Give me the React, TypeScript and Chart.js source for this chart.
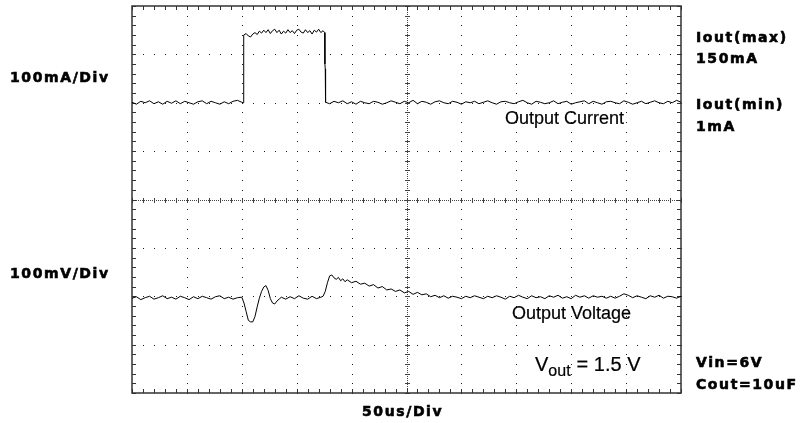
import React, { useEffect, useRef } from 'react';
import { Chart, registerables } from 'chart.js';

Chart.register(...registerables);

// Time base (us) of the major divisions: 50us/Div, 10 divisions
const timeDivUs = [0, 50, 100, 150, 200, 250, 300, 350, 400, 450, 500];
// Vertical divisions (8 divisions, centre = 0)
const verticalDivs = [-4, -3, -2, -1, 0, 1, 2, 3, 4];
const minorPerDiv = 5;

// Channel scaling
const mAPerDiv = 100;
const mVPerDiv = 100;
const currentOffsetDiv = 2;
const voltageOffsetDiv = -2;

// Output current trace (us, mA)
const currentTimeUs = [
  0, 4, 8, 12, 16, 20, 24, 28, 32, 36, 40, 44, 48, 52, 56, 60, 64, 68, 72, 76, 80, 84, 88, 92, 96, 100,
  101.4, 101.5, 101.7, 102,
  104, 106, 108, 110, 112, 114, 116, 118, 120, 122, 124, 126, 128, 130, 132, 134, 136, 138, 140, 142,
  144, 146, 148, 150, 152, 154, 156, 158, 160, 162, 164, 166, 168, 170, 172, 174, 175.5,
  175.7, 176, 176.3,
  180, 184, 188, 192, 196, 200, 204, 208, 212, 216, 220, 224, 228, 232, 236, 240, 244, 248, 252, 256,
  260, 264, 268, 272, 276, 280, 284, 288, 292, 296, 300, 304, 308, 312, 316, 320, 324, 328, 332, 336,
  340, 344, 348, 352, 356, 360, 364, 368, 372, 376, 380, 384, 388, 392, 396, 400, 404, 408, 412, 416,
  420, 424, 428, 432, 436, 440, 444, 448, 452, 456, 460, 464, 468, 472, 476, 480, 484, 488, 492, 496, 500,
];
const currentMa = [
  1, -3, 3, 0, 4, -2, 2, -3, 3, -1, 4, -2, 3, 0, -3, 2, 4, -2, 3, 0, -3, 2, -2, 3, 5, 1,
  0, 55, 70, 140,
  143, 138, 136, 142, 145, 141, 148, 144, 150, 145, 151, 143, 149, 152, 145, 150, 142, 148, 144, 151,
  145, 149, 143, 150, 152, 146, 144, 151, 145, 149, 142, 150, 146, 152, 145, 149, 145,
  80, 70, 1,
  -2, 3, 0, 4, -2, 2, -3, 3, 0, -2, 3, 1, -3, 0, 4, 1, -2, 3, 0, 5,
  -2, 3, 1, -3, 2, 4, 0, -2, 3, 1, -3, 2, 0, 3, -2, 1, 4, 0, -3, 2,
  3, 0, -2, 2, 5, 0, -3, 3, 1, -2, 0, 4, -2, 1, 3, -3, 0, 2, 4, -2,
  3, 0, -3, 2, 3, 0, -2, 4, 1, -3, 0, 3, -2, 1, 4, 0, -2, 3, 0, 5, 1,
];

// Output voltage trace (us, mV deviation)
const voltageTimeUs = [
  0, 4, 8, 12, 16, 20, 24, 28, 32, 36, 40, 44, 48, 52, 56, 60, 64, 68, 72, 76, 80, 84, 88, 92, 96, 100,
  102, 104, 106, 108, 110, 112, 114, 116, 118, 120, 122, 124, 126, 128, 130, 132, 134, 136, 140, 144,
  148, 152, 156, 160, 164, 168, 172, 174, 176, 178, 180, 182, 184, 186, 188, 190, 192, 194, 196, 200,
  204, 208, 212, 216, 220, 224, 228, 232, 236, 240, 244, 248, 252, 256, 260, 264, 268, 272, 276, 280,
  284, 288, 292, 296, 300, 304, 308, 312, 316, 320, 324, 328, 332, 336, 340, 344, 348, 352, 356, 360,
  364, 368, 372, 376, 380, 384, 388, 392, 396, 400, 404, 408, 412, 416, 420, 424, 428, 432, 436, 440,
  444, 448, 452, 456, 460, 464, 468, 472, 476, 480, 484, 488, 492, 496, 500,
];
const voltageMv = [
  -4, -1, -7, -3, 0, -6, -3, 1, -5, -2, -6, 0, -3, -7, -1, -5, 0, -3, -6, -1, 1, -5, -2, -6, -3, -2,
  -14, -32, -50, -53, -53, -42, -22, -4, 10, 19, 22, 12, -5, -14, -16, -10, -6, -2, -6, -1,
  -5, 1, -4, -6, 0, -5, -2, 0, 10, 28, 42, 44, 38, 35, 39, 32, 36, 30, 34, 28,
  31, 25, 27, 21, 24, 17, 20, 13, 15, 10, 13, 7, 10, 4, 8, 3, 5, -1, 2, -3,
  1, -4, 0, -2, -5, 0, -3, 1, -2, -5, 0, -3, 1, -2, -6, 0, -3, 2, -2, -5,
  1, -3, -1, -5, 1, -2, 2, -4, -1, -5, 2, -2, 1, -4, 1, -2, 0, -4, 0, -4,
  0, 5, 2, -3, 1, -2, -5, 1, -2, 2, -4, 0, -1, -4, 0,
];

const gridPlugin = {
  id: 'scopeGrid',
  beforeDatasetsDraw(chart: any) {
    const { ctx, chartArea: a, scales } = chart;
    const xs = scales.x;
    const ys = scales.y;
    const xMin = timeDivUs[0];
    const xMax = timeDivUs[timeDivUs.length - 1];
    const xCenter = timeDivUs[(timeDivUs.length - 1) / 2];
    const yMin = verticalDivs[0];
    const yMax = verticalDivs[verticalDivs.length - 1];
    const xStep = timeDivUs[1] - timeDivUs[0];
    const yStep = verticalDivs[1] - verticalDivs[0];
    const xMinor: number[] = [];
    for (let i = 0; i < timeDivUs.length - 1; i++)
      for (let k = 0; k < minorPerDiv; k++) xMinor.push(timeDivUs[i] + (k * xStep) / minorPerDiv);
    xMinor.push(xMax);
    const yMinor: number[] = [];
    for (let i = 0; i < verticalDivs.length - 1; i++)
      for (let k = 0; k < minorPerDiv; k++) yMinor.push(verticalDivs[i] + (k * yStep) / minorPerDiv);
    yMinor.push(yMax);

    const px = (v: number) => Math.round(xs.getPixelForValue(v));
    const py = (v: number) => Math.round(ys.getPixelForValue(v));

    ctx.save();
    // dotted major grid
    ctx.fillStyle = '#1a1a1a';
    for (const xv of timeDivUs) {
      if (xv === xMin || xv === xMax || xv === xCenter) continue;
      for (const yv of yMinor) ctx.fillRect(px(xv), py(yv), 1, 1);
    }
    for (const yv of verticalDivs) {
      if (yv === yMin || yv === yMax || yv === 0) continue;
      for (const xv of xMinor) ctx.fillRect(px(xv), py(yv), 1, 1);
    }
    // centre cross lines
    ctx.fillStyle = '#444';
    const cx = px(xCenter);
    const cy = py(0);
    for (let y = Math.round(a.top); y <= a.bottom; y += 2) ctx.fillRect(cx, y, 1, 1);
    for (let x = Math.round(a.left); x <= a.right; x += 2) ctx.fillRect(x, cy, 1, 1);
    for (const yv of yMinor) ctx.fillRect(cx - 2, py(yv), 5, 1);
    for (const xv of xMinor) ctx.fillRect(px(xv), cy - 2, 1, 5);
    // border ticks
    ctx.fillStyle = '#333';
    for (const xv of xMinor) {
      ctx.fillRect(px(xv), Math.round(a.top), 1, 4);
      ctx.fillRect(px(xv), Math.round(a.bottom) - 4, 1, 4);
    }
    for (const yv of yMinor) {
      ctx.fillRect(Math.round(a.left), py(yv), 4, 1);
      ctx.fillRect(Math.round(a.right) - 4, py(yv), 4, 1);
    }
    // frame
    ctx.strokeStyle = '#333';
    ctx.lineWidth = 1.5;
    ctx.strokeRect(a.left, a.top, a.right - a.left, a.bottom - a.top);
    ctx.restore();
  },
};

const boldLabel: React.CSSProperties = {
  position: 'absolute',
  fontFamily: '"DejaVu Sans", sans-serif',
  fontWeight: 'bold',
  fontSize: 14,
  letterSpacing: '1.6px',
  lineHeight: '16px',
  whiteSpace: 'nowrap',
  color: '#000',
  WebkitTextStroke: '0.6px #000',
};

const plainLabel: React.CSSProperties = {
  position: 'absolute',
  fontFamily: '"Liberation Sans", Arial, sans-serif',
  fontSize: 18,
  lineHeight: '20px',
  whiteSpace: 'nowrap',
  color: '#000',
  WebkitTextStroke: '0.2px #000',
};

export default function App() {
  const canvasRef = useRef<HTMLCanvasElement | null>(null);

  useEffect(() => {
    const canvas = canvasRef.current;
    if (!canvas) return;
    const chart = new Chart(canvas, {
      type: 'line',
      data: {
        datasets: [
          {
            label: 'Output Current',
            data: currentTimeUs.map((t, i) => ({ x: t, y: currentOffsetDiv + currentMa[i] / mAPerDiv })),
            borderColor: '#000',
            borderWidth: 1,
            pointRadius: 0,
            tension: 0,
          },
          {
            label: 'Output Voltage',
            data: voltageTimeUs.map((t, i) => ({ x: t, y: voltageOffsetDiv + voltageMv[i] / mVPerDiv })),
            borderColor: '#000',
            borderWidth: 1,
            pointRadius: 0,
            tension: 0,
          },
        ],
      },
      options: {
        responsive: false,
        animation: false,
        devicePixelRatio: 1,
        layout: { padding: { left: 132, top: 6, right: 120, bottom: 30 } },
        scales: {
          x: { type: 'linear', min: timeDivUs[0], max: timeDivUs[timeDivUs.length - 1], display: false },
          y: { type: 'linear', min: verticalDivs[0], max: verticalDivs[verticalDivs.length - 1], display: false },
        },
        plugins: { legend: { display: false }, tooltip: { enabled: false } },
        elements: { point: { radius: 0 } },
      },
      plugins: [gridPlugin],
    });
    return () => chart.destroy();
  }, []);

  return (
    <div style={{ position: 'fixed', left: 0, top: 0, width: 801, height: 423, background: '#fff' }}>
      <canvas ref={canvasRef} width={801} height={423} style={{ display: 'block' }} />
      <div style={{ ...boldLabel, left: 10, top: 69 }}>100mA/Div</div>
      <div style={{ ...boldLabel, left: 10, top: 265 }}>100mV/Div</div>
      <div style={{ ...boldLabel, left: 362, top: 403 }}>50us/Div</div>
      <div style={{ ...boldLabel, left: 696, top: 29 }}>Iout(max)</div>
      <div style={{ ...boldLabel, left: 696, top: 50 }}>150mA</div>
      <div style={{ ...boldLabel, left: 696, top: 96 }}>Iout(min)</div>
      <div style={{ ...boldLabel, left: 696, top: 118 }}>1mA</div>
      <div style={{ ...boldLabel, left: 696, top: 354 }}>Vin=6V</div>
      <div style={{ ...boldLabel, left: 696, top: 376 }}>Cout=10uF</div>
      <div style={{ ...plainLabel, left: 505, top: 108 }}>Output Current</div>
      <div style={{ ...plainLabel, left: 512, top: 303 }}>Output Voltage</div>
      <div style={{ ...plainLabel, left: 535, top: 352, fontSize: 20, lineHeight: '24px' }}>
        V<span style={{ fontSize: 16, position: 'relative', top: 5 }}>out</span>
        <span style={{ marginLeft: 6 }}>= 1.5 V</span>
      </div>
    </div>
  );
}
